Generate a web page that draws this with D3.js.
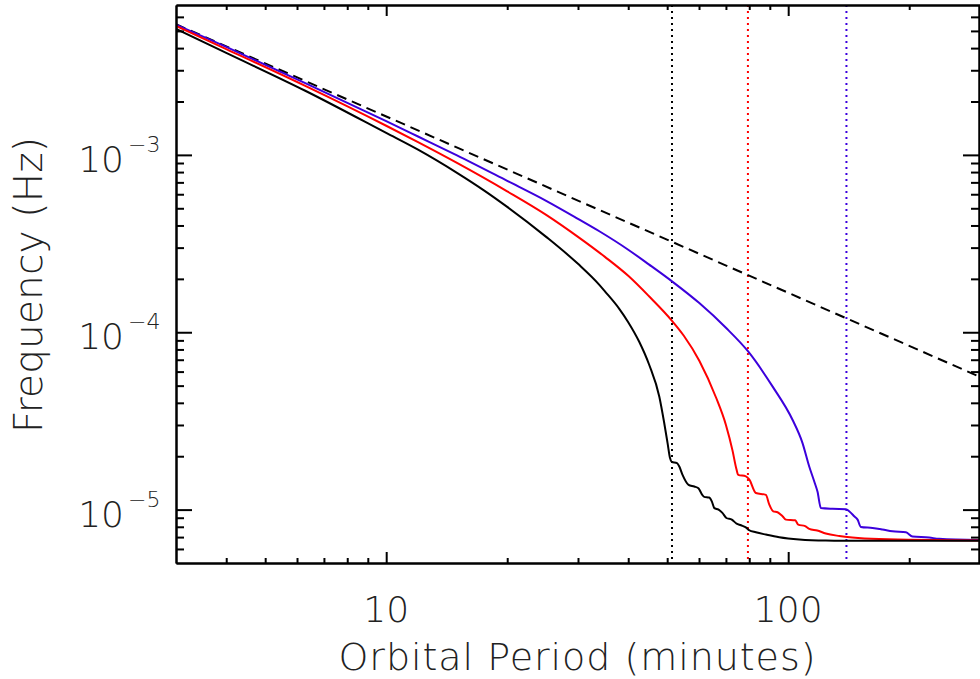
<!DOCTYPE html>
<html>
<head>
<meta charset="utf-8">
<script src="https://cdn.jsdelivr.net/npm/d3@7"></script>
<style>
  body { margin: 0; background: #fff; }
  text { font-family: "DejaVu Sans", sans-serif; font-weight: 200; fill: #222; }
</style>
</head>
<body>
<div id="chart"></div>
<script>
// orbital period (minutes) and frequency (Hz)
let blackPeriod = [3, 4, 6.29, 10, 12, 15, 17.5, 20, 25, 30, 33.9, 35, 38, 40, 42.6, 45.1, 47.8, 49.1, 50.1, 50.8, 51.3,
  52.9, 53.6, 54.6, 56.5, 58.4, 59.8, 61.0, 61.8, 63.6, 64.6, 65.5, 67.1, 68.6, 70.2, 72.4, 74.4, 76.3,
  78.8, 80.0, 83.1, 88, 95, 106.5, 124, 162, 300];
let blackFreq = [5.13e-3, 3.76e-3, 2.30e-3, 1.33e-3, 1.07e-3, 7.92e-4, 6.31e-4, 5.09e-4, 3.45e-4, 2.43e-4, 1.85e-4, 1.70e-4, 1.355e-4, 1.14e-4, 8.84e-5, 6.56e-5, 4.33e-5, 3.13e-5, 2.38e-5, 1.96e-5, 1.86e-5,
  1.83e-5, 1.75e-5, 1.57e-5, 1.38e-5, 1.35e-5, 1.32e-5, 1.22e-5, 1.18e-5, 1.17e-5, 1.11e-5, 1.02e-5, 1.00e-5, 9.58e-6, 8.97e-6, 8.78e-6, 8.34e-6, 8.16e-6,
  7.89e-6, 7.65e-6, 7.45e-6, 7.23e-6, 6.98e-6, 6.78e-6, 6.69e-6, 6.67e-6, 6.67e-6];

let redPeriod = [3, 4, 6.29, 10, 12, 15, 20, 25, 30, 35, 40, 45, 51.4, 55, 60.1, 66.1, 70.0, 72.7, 74.3, 75.1, 78.5, 80.0,
  83.1, 88.0, 89.7, 91.8, 94.1, 96.8, 98.7, 104.1, 105.9, 110.2, 112.8, 118.1, 124, 134, 144.3, 168.4, 300];
let redFreq = [5.33e-3, 3.95e-3, 2.45e-3, 1.46e-3, 1.18e-3, 9.01e-4, 6.23e-4, 4.59e-4, 3.45e-4, 2.66e-4, 2.08e-4, 1.60e-4, 1.16e-4, 9.56e-5, 6.91e-5, 4.3e-5, 3.0e-5, 2.15e-5, 1.7e-5, 1.57e-5, 1.54e-5, 1.48e-5,
  1.24e-5, 1.21e-5, 1.07e-5, 9.78e-6, 9.66e-6, 9.17e-6, 8.78e-6, 8.70e-6, 8.23e-6, 8.07e-6, 7.79e-6, 7.62e-6, 7.33e-6, 7.10e-6, 6.96e-6, 6.82e-6, 6.69e-6];

let bluePeriod = [3, 4, 6.29, 10, 12, 15, 20, 25, 30, 33.9, 40, 45, 51.5, 60.1, 70, 79.5, 91.4, 102.5, 108.5, 112.8, 116.1,
  118.3, 120.6, 128.9, 139.2, 141.8, 146.0, 148.8, 151.6, 162.1, 171.6, 181.7, 196.3, 203.8, 224.2, 237.4, 300];
let blueFreq = [5.43e-3, 4.06e-3, 2.54e-3, 1.55e-3, 1.27e-3, 9.94e-4, 7.14e-4, 5.51e-4, 4.36e-4, 3.71e-4, 2.92e-4, 2.415e-4, 1.93e-4, 1.46e-4, 1.06e-4, 7.79e-5, 4.95e-5, 3.21e-5, 2.38e-5, 1.75e-5, 1.44e-5,
  1.26e-5, 1.02e-5, 1.01e-5, 1.006e-5, 9.78e-6, 9.17e-6, 8.78e-6, 7.99e-6, 7.88e-6, 7.72e-6, 7.54e-6, 7.45e-6, 7.05e-6, 6.96e-6, 6.84e-6, 6.73e-6];

// dashed reference line (two ends)
let dashPeriod = [3, 300];
let dashFreq = [5.45e-3, 5.6e-5];

// dotted vertical markers
let markPeriod = [51.4, 79.4, 139.6];
let markColor = ["#000000", "#ff0000", "#3c00dc"];

let xMajor = [10, 100];
let xMinor = [4, 5, 6, 7, 8, 9, 20, 30, 40, 50, 60, 70, 80, 90, 200];
let yMajor = [1e-5, 1e-4, 1e-3];
let yMajorExp = ["−5", "−4", "−3"];
let yMinor = [6e-6, 7e-6, 8e-6, 9e-6, 2e-5, 3e-5, 4e-5, 5e-5, 6e-5, 7e-5, 8e-5, 9e-5,
  2e-4, 3e-4, 4e-4, 5e-4, 6e-4, 7e-4, 8e-4, 9e-4, 2e-3, 3e-3, 4e-3, 5e-3, 6e-3];

let width = 980, height = 679;
let pLeft = 176, pRight = 979, pTop = 5, pBottom = 563;

let svg = d3.select("#chart").append("svg")
    .attr("width", width)
    .attr("height", height);

let x = d3.scaleLog().domain([3, 300]).range([pLeft, 980]);
let y = d3.scaleLog().domain([5e-6, 7e-3]).range([pBottom, pTop]);

svg.append("clipPath").attr("id", "clip")
    .append("rect").attr("x", pLeft).attr("y", pTop).attr("width", pRight - pLeft).attr("height", pBottom - pTop);

let plot = svg.append("g").attr("clip-path", "url(#clip)");

let line = d3.line()
    .x(d => x(d[0]))
    .y(d => y(d[1]))
    .curve(d3.curveMonotoneX);

// dotted markers
plot.selectAll(".mark")
    .data(markPeriod)
    .enter()
    .append("line")
    .attr("x1", d => x(d)).attr("x2", d => x(d))
    .attr("y1", pTop).attr("y2", pBottom)
    .attr("stroke", (d, i) => markColor[i])
    .attr("stroke-width", 2)
    .attr("stroke-dasharray", "2,4");

// dashed line
plot.append("path")
    .datum(d3.zip(dashPeriod, dashFreq))
    .attr("d", line)
    .attr("fill", "none")
    .attr("stroke", "#000")
    .attr("stroke-width", 2)
    .attr("stroke-dasharray", "10,6");

let curves = [
    [bluePeriod, blueFreq, "#3c00dc"],
    [redPeriod, redFreq, "#ff0000"],
    [blackPeriod, blackFreq, "#000000"]
];
curves.forEach(function (c) {
    plot.append("path")
        .datum(d3.zip(c[0], c[1]))
        .attr("d", line)
        .attr("fill", "none")
        .attr("stroke", c[2])
        .attr("stroke-width", 2);
});

// axes: major + minor ticks on all four sides
function styleAxis(g) {
    g.selectAll("path, line").attr("stroke", "#000").attr("stroke-width", 2);
    g.selectAll("text").remove();
}
svg.append("g").attr("transform", "translate(0," + pBottom + ")")
    .call(d3.axisBottom(x).tickValues(xMajor).tickSizeInner(-11).tickSizeOuter(0)).call(styleAxis);
svg.append("g").attr("transform", "translate(0," + pBottom + ")")
    .call(d3.axisBottom(x).tickValues(xMinor).tickSizeInner(-5).tickSizeOuter(0)).call(styleAxis);
svg.append("g").attr("transform", "translate(0," + pTop + ")")
    .call(d3.axisTop(x).tickValues(xMajor).tickSizeInner(-11).tickSizeOuter(0)).call(styleAxis);
svg.append("g").attr("transform", "translate(0," + pTop + ")")
    .call(d3.axisTop(x).tickValues(xMinor).tickSizeInner(-5).tickSizeOuter(0)).call(styleAxis);
svg.append("g").attr("transform", "translate(" + pLeft + ",0)")
    .call(d3.axisLeft(y).tickValues(yMajor).tickSizeInner(-16).tickSizeOuter(0)).call(styleAxis);
svg.append("g").attr("transform", "translate(" + pLeft + ",0)")
    .call(d3.axisLeft(y).tickValues(yMinor).tickSizeInner(-8).tickSizeOuter(0)).call(styleAxis);
svg.append("g").attr("transform", "translate(" + pRight + ",0)")
    .call(d3.axisRight(y).tickValues(yMajor).tickSizeInner(-16).tickSizeOuter(0)).call(styleAxis);
svg.append("g").attr("transform", "translate(" + pRight + ",0)")
    .call(d3.axisRight(y).tickValues(yMinor).tickSizeInner(-8).tickSizeOuter(0)).call(styleAxis);

// tick labels
svg.selectAll(".xlab")
    .data(xMajor)
    .enter()
    .append("text")
    .attr("x", d => x(d))
    .attr("y", 622)
    .attr("text-anchor", "middle")
    .attr("font-size", 36)
    .text(d => d);

yMajor.forEach(function (v, i) {
    svg.append("text")
        .attr("x", 124)
        .attr("y", y(v) + 17)
        .attr("text-anchor", "end")
        .attr("font-size", 36)
        .text("10");
    svg.append("text")
        .attr("x", 128)
        .attr("y", y(v) - 3)
        .attr("font-size", 22)
        .text(yMajorExp[i]);
});

// axis titles
svg.append("text")
    .attr("x", 577)
    .attr("y", 670)
    .attr("text-anchor", "middle")
    .attr("font-size", 38)
    .attr("textLength", 477)
    .text("Orbital Period (minutes)");

svg.append("text")
    .attr("transform", "translate(42,285) rotate(-90)")
    .attr("text-anchor", "middle")
    .attr("font-size", 39)
    .attr("textLength", 296)
    .text("Frequency (Hz)");
</script>
</body>
</html>
